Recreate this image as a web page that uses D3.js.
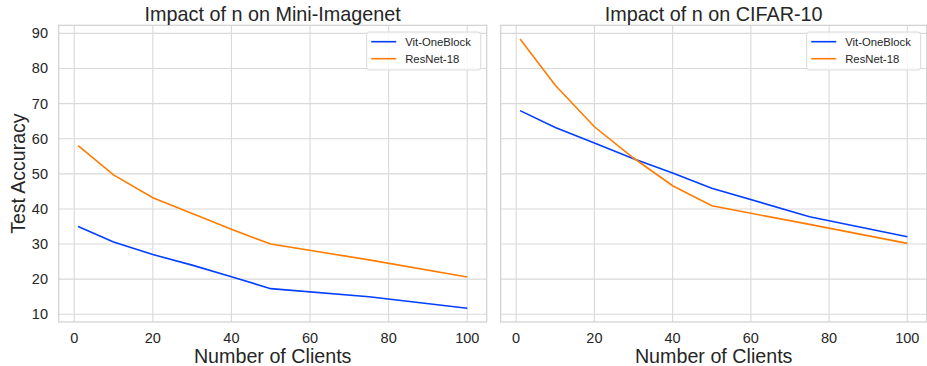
<!DOCTYPE html>
<html>
<head>
<meta charset="utf-8">
<script src="https://cdn.jsdelivr.net/npm/d3@7"></script>
<style>
  body { margin: 0; background: #fff; }
  text { font-family: "Liberation Sans", Arial, sans-serif; fill: #262626; }
</style>
</head>
<body>
<div id="chart"></div>
<script>
const clients = [1, 10, 20, 30, 40, 50, 75, 100];

const miniVit = [35.0, 30.6, 27.0, 24.0, 20.7, 17.3, 15.0, 11.7];
const miniResnet = [58.0, 49.7, 43.2, 38.7, 34.2, 30.0, 25.5, 20.6];

const cifarVit = [68.0, 63.2, 58.8, 54.3, 50.2, 45.9, 37.8, 32.1];
const cifarResnet = [88.4, 75.2, 63.4, 54.5, 46.6, 40.9, 35.6, 30.2];

const seriesNames = ["Vit-OneBlock", "ResNet-18"];
const colors = ["#023eff", "#ff7c00"];

const xTicks = [0, 20, 40, 60, 80, 100];
const yTicks = [10, 20, 30, 40, 50, 60, 70, 80, 90];

const width = 927, height = 366;
const plotTop = 25.3, plotBottom = 322;

const panels = [
  { title: "Impact of n on Mini-Imagenet", left: 58.7, right: 486.7, series: [miniVit, miniResnet], yLabels: true },
  { title: "Impact of n on CIFAR-10", left: 500.7, right: 926.7, series: [cifarVit, cifarResnet], yLabels: false }
];

const svg = d3.select("#chart")
  .append("svg")
  .attr("width", width)
  .attr("height", height);

const y = d3.scaleLinear()
  .domain([7.8, 92.3])
  .range([plotBottom, plotTop]);

panels.forEach(p => {
  const x = d3.scaleLinear()
    .domain([-3.95, 104.95])
    .range([p.left, p.right]);

  const g = svg.append("g");

  // grid
  g.selectAll(".gx")
    .data(xTicks)
    .join("line")
    .attr("x1", d => x(d)).attr("x2", d => x(d))
    .attr("y1", plotTop).attr("y2", plotBottom)
    .attr("stroke", "#d9d9d9").attr("stroke-width", 1.1);

  g.selectAll(".gy")
    .data(yTicks)
    .join("line")
    .attr("x1", p.left).attr("x2", p.right)
    .attr("y1", d => y(d)).attr("y2", d => y(d))
    .attr("stroke", "#d9d9d9").attr("stroke-width", 1.1);

  // spines
  g.append("rect")
    .attr("x", p.left).attr("y", plotTop)
    .attr("width", p.right - p.left).attr("height", plotBottom - plotTop)
    .attr("fill", "none")
    .attr("stroke", "#d0d0d0").attr("stroke-width", 1.2);

  // tick labels
  g.selectAll(".xt")
    .data(xTicks)
    .join("text")
    .attr("x", d => x(d))
    .attr("y", 343)
    .attr("text-anchor", "middle")
    .attr("font-size", 14.5)
    .text(d => d);

  if (p.yLabels) {
    g.selectAll(".yt")
      .data(yTicks)
      .join("text")
      .attr("x", 48)
      .attr("y", d => y(d) + 5)
      .attr("text-anchor", "end")
      .attr("font-size", 14.5)
      .text(d => d);

    g.append("text")
      .attr("transform", `translate(24.5, ${(plotTop + plotBottom) / 2}) rotate(-90)`)
      .attr("text-anchor", "middle")
      .attr("font-size", 19.5)
      .text("Test Accuracy");
  }

  // titles and x label
  g.append("text")
    .attr("x", (p.left + p.right) / 2)
    .attr("y", 20.5)
    .attr("text-anchor", "middle")
    .attr("font-size", 19.8)
    .text(p.title);

  g.append("text")
    .attr("x", (p.left + p.right) / 2)
    .attr("y", 363)
    .attr("text-anchor", "middle")
    .attr("font-size", 19.7)
    .text("Number of Clients");

  // lines
  const line = d3.line()
    .x((d, i) => x(clients[i]))
    .y(d => y(d));

  p.series.forEach((s, i) => {
    g.append("path")
      .datum(s)
      .attr("d", line)
      .attr("fill", "none")
      .attr("stroke", colors[i])
      .attr("stroke-width", 1.6);
  });

  // legend
  const lx = p.right - 120, ly = 32;
  const lg = g.append("g").attr("transform", `translate(${lx},${ly})`);
  lg.append("rect")
    .attr("width", 114).attr("height", 38)
    .attr("rx", 2.5)
    .attr("fill", "#fff").attr("fill-opacity", 0.8)
    .attr("stroke", "#d9d9d9");
  seriesNames.forEach((name, i) => {
    const ry = 9.7 + i * 17;
    lg.append("line")
      .attr("x1", 4.5).attr("x2", 29.5)
      .attr("y1", ry).attr("y2", ry)
      .attr("stroke", colors[i]).attr("stroke-width", 1.6);
    lg.append("text")
      .attr("x", 38.5).attr("y", ry + 4)
      .attr("font-size", 11.3)
      .text(name);
  });
});
</script>
</body>
</html>
